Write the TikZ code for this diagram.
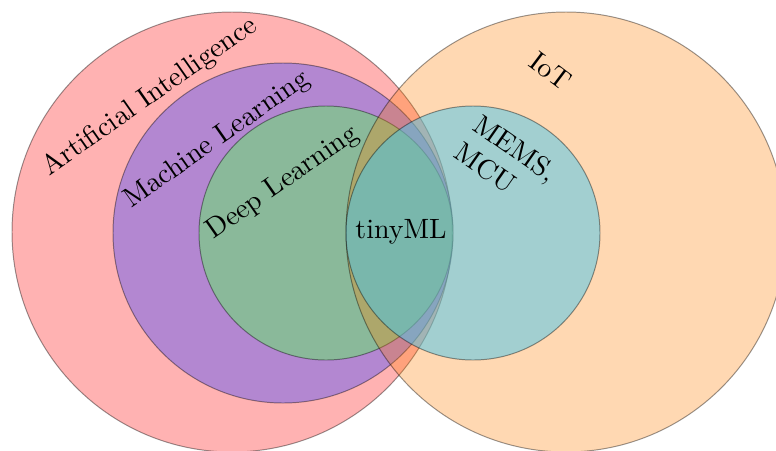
\documentclass[tikz,border=0pt]{standalone}
\definecolor{mlcol}{RGB}{105,93,241}
\definecolor{dlcol}{RGB}{99,235,100}
\definecolor{memscol}{RGB}{71,199,238}
\tikzset{
  venn/.style={draw=black, draw opacity=0.4, line width=0.35pt},
  lbl/.style={inner sep=0pt, font=\normalsize}
}
\begin{document}
\begin{tikzpicture}[x=0.358pt,y=-0.358pt]
\useasboundingbox (0,0) rectangle (776,450);
\clip (0,0) rectangle (776,450);
\fill[white] (0,0) rectangle (776,450);
% circles
\path[venn, fill=red, fill opacity=0.3] (232,232) circle[radius=220];
\path[venn, fill=mlcol, fill opacity=0.5] (283,233) circle[radius=170];
\path[venn, fill=dlcol, fill opacity=0.5] (326,233) circle[radius=127];
\path[venn, fill=orange, fill opacity=0.3] (566,232) circle[radius=220];
\path[venn, fill=memscol, fill opacity=0.5] (473,233) circle[radius=127];
% labels
\node[lbl, rotate=35] (ai) at (150,97) {Artificial Intelligence};
\node[lbl, rotate=35] (ml) at (217,140) {Machine Learning};
\node[lbl, rotate=35] (dl) at (283,183) {Deep Learning};
\node[lbl, rotate=-37] (iot) at (551,71) {IoT};
\node[lbl, rotate=-35, align=left] (mems) at (506,162) {MEMS,\\MCU};
\node[lbl] (tiny) at (401,232) {tinyML};
\end{tikzpicture}
\end{document}
